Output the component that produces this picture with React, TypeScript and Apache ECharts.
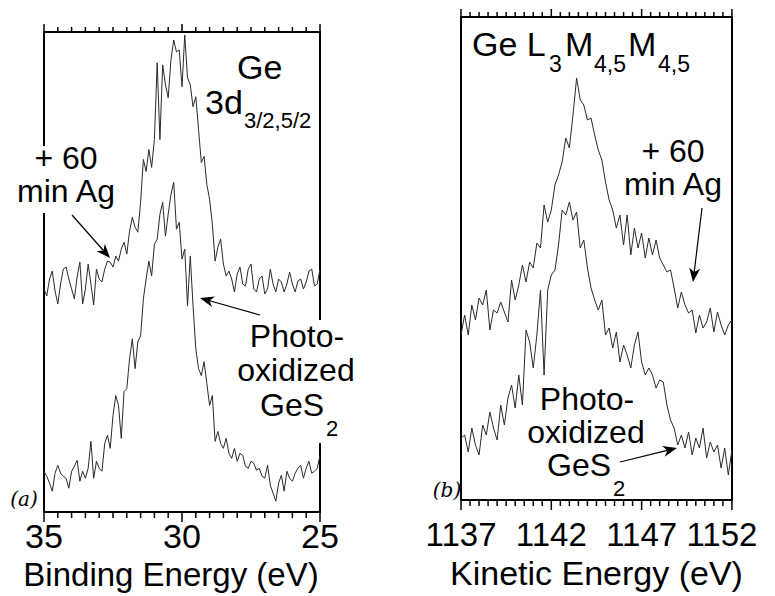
import React, { useEffect, useRef } from "react";
import * as echarts from "echarts";

// Panel (a): Ge 3d, binding energy grid 35 -> 25 eV, step 0.1 eV
const BE_START = 35;
const BE_STEP = -0.1;
const ge3dAg = [
  224, 217, 234, 242, 222, 209, 229, 244, 246, 234,
  224, 214, 236, 251, 209, 224, 249, 229, 208, 244,
  234, 231, 244, 252, 251, 246, 257, 252, 264, 271,
  259, 282, 296, 286, 281, 311, 354, 342, 364, 346,
  374, 451, 374, 449, 429, 416, 454, 474, 462, 464,
  427, 479, 436, 429, 407, 417, 384, 351, 357, 329,
  314, 289, 252, 266, 274, 249, 237, 242, 234, 221,
  239, 246, 229, 227, 244, 249, 224, 221, 234, 237,
  219, 224, 244, 229, 221, 234, 231, 221, 229, 241,
  229, 221, 232, 234, 224, 231, 242, 244, 227, 229,
  244,
];
const ge3dOx = [
  41, 36, 29, 21, 39, 47, 39, 36, 34, 24,
  41, 46, 52, 31, 41, 34, 44, 71, 34, 51,
  44, 41, 69, 77, 64, 97, 117, 107, 74, 121,
  124, 154, 174, 144, 171, 177, 214, 234, 252, 237,
  269, 274, 299, 311, 277, 299, 319, 331, 284, 291,
  254, 264, 207, 257, 207, 164, 144, 137, 151, 129,
  107, 117, 71, 81, 69, 64, 74, 59, 54, 64,
  51, 59, 57, 46, 44, 51, 49, 42, 44, 36,
  34, 47, 27, 19, 11, 29, 37, 21, 41, 34,
  31, 39, 44, 47, 34, 44, 51, 39, 41, 44,
  57,
];

// Panel (b): Ge L3M45M45 Auger, kinetic energy grid 1137 -> 1152 eV, step 0.2 eV
const KE_START = 1137;
const KE_STEP = 0.2;
const augerAg = [
  165, 185, 165, 195, 180, 202, 195, 210, 170, 190,
  187, 198, 188, 178, 220, 200, 215, 235, 218, 238,
  232, 257, 252, 295, 278, 290, 315, 325, 338, 362,
  352, 385, 422, 400, 395, 380, 382, 365, 350, 340,
  318, 300, 290, 272, 285, 255, 285, 245, 272, 252,
  267, 242, 262, 245, 260, 242, 235, 228, 230, 212,
  192, 208, 195, 187, 190, 167, 185, 172, 178, 192,
  168, 188, 175, 165, 175, 180,
];
const augerOx = [
  62, 65, 48, 72, 55, 45, 75, 65, 88, 72,
  60, 95, 75, 102, 115, 92, 125, 95, 170, 158,
  132, 165, 210, 125, 210, 225, 230, 255, 290, 285,
  298, 280, 288, 252, 260, 232, 212, 200, 190, 200,
  165, 172, 152, 168, 138, 155, 145, 132, 155, 168,
  138, 125, 132, 125, 112, 120, 118, 95, 80, 72,
  55, 65, 52, 68, 45, 62, 52, 72, 42, 58,
  48, 55, 32, 52, 25, 50,
];

// tick positions (labels on the major ones)
const beMajorTicks = [35, 30, 25];
const beMinorTicks = [
  35, 34.5, 34, 33.5, 33, 32.5, 32, 31.5, 31, 30.5, 30,
  29.5, 29, 28.5, 28, 27.5, 27, 26.5, 26, 25.5, 25,
];
const keMajorTicks = [1137, 1142, 1147, 1152];
const keMinorTicks = [
  1137, 1137.5, 1138, 1138.5, 1139, 1139.5, 1140, 1140.5, 1141, 1141.5, 1142,
  1142.5, 1143, 1143.5, 1144, 1144.5, 1145, 1145.5, 1146, 1146.5, 1147,
  1147.5, 1148, 1148.5, 1149, 1149.5, 1150, 1150.5, 1151, 1151.5, 1152,
];

const BE_MIN = 25;
const BE_MAX = 35;
const KE_SPAN = 15;
const MAJOR_STEP = 5;
const YMAX_A = 482;
const YMAX_B = 483;

const FONT = "'Liberation Sans', Arial, Helvetica, sans-serif";
const SERIF = "'DejaVu Serif', 'Liberation Serif', serif";
const ANN = 32; // annotation font size

function txt(text: string, x: number, y: number, size: number, align = "left", extra: any = {}) {
  return {
    type: "text",
    x,
    y,
    z: 110,
    style: { text, fontSize: size, fontFamily: FONT, fill: "#000", align, verticalAlign: "middle", ...extra },
  };
}

function arrow(x1: number, y1: number, x2: number, y2: number) {
  const ang = Math.atan2(y2 - y1, x2 - x1);
  const ux = Math.cos(ang);
  const uy = Math.sin(ang);
  const px = -uy;
  const py = ux;
  const L = 14;
  const W = 5.5;
  const N = 10;
  const bx = x2 - ux * L;
  const by = y2 - uy * L;
  const nx = x2 - ux * N;
  const ny = y2 - uy * N;
  return [
    { type: "line", z: 110, shape: { x1, y1, x2: nx, y2: ny }, style: { stroke: "#000", lineWidth: 1.2 } },
    {
      type: "polygon",
      z: 110,
      shape: { points: [[x2, y2], [bx + px * W, by + py * W], [nx, ny], [bx - px * W, by - py * W]] },
      style: { fill: "#000" },
    },
  ];
}

function sideAxis(gridIndex: number, position: string, max: number) {
  return {
    gridIndex,
    type: "value",
    position,
    min: 0,
    max,
    axisLine: { show: true, onZero: false, lineStyle: { color: "#000", width: 2 } },
    axisTick: { show: false },
    axisLabel: { show: false },
    splitLine: { show: false },
  };
}

function topAxis(gridIndex: number, min: number, max: number, inverse: boolean) {
  return {
    gridIndex,
    type: "value",
    position: "top",
    min,
    max,
    inverse,
    interval: MAJOR_STEP,
    axisLine: { show: true, onZero: false, lineStyle: { color: "#000", width: 2 } },
    axisTick: { show: false },
    axisLabel: { show: false },
    splitLine: { show: false },
  };
}

// frame tick marks (bottom and top), placed through the axis scales
function tickSeries(xAxisIndex: number, yAxisIndex: number, ticks: number[], majors: number[], offset: number, ymax: number) {
  return {
    type: "custom",
    xAxisIndex,
    yAxisIndex,
    silent: true,
    clip: false,
    z: 5,
    data: ticks.map((v) => [+(v - offset).toFixed(2), majors.includes(v) ? 1 : 0]),
    encode: { x: 0, y: 1 },
    renderItem: (params: any, api: any) => {
      const v = api.value(0);
      const major = api.value(1) === 1;
      const pb = api.coord([v, 0]);
      const pt = api.coord([v, ymax]);
      const lb = major ? 10 : 6;
      const lt = major ? 8 : 5;
      const style = { stroke: "#000", lineWidth: 1.5 };
      return {
        type: "group",
        children: [
          { type: "line", shape: { x1: pb[0], y1: pb[1], x2: pb[0], y2: pb[1] + lb }, style },
          { type: "line", shape: { x1: pt[0], y1: pt[1], x2: pt[0], y2: pt[1] - lt }, style },
        ],
      };
    },
  };
}

export default function App() {
  const ref = useRef<HTMLDivElement>(null);

  useEffect(() => {
    if (!ref.current) return;
    const chart = echarts.init(ref.current, null, { renderer: "svg" });

    const dataA1 = ge3dAg.map((v, i) => [+(BE_START + i * BE_STEP).toFixed(2), v]);
    const dataA2 = ge3dOx.map((v, i) => [+(BE_START + i * BE_STEP).toFixed(2), v]);
    const dataB1 = augerAg.map((v, i) => [+(i * KE_STEP).toFixed(2), v]);
    const dataB2 = augerOx.map((v, i) => [+(i * KE_STEP).toFixed(2), v]);

    const lineStyle = { color: "#2a2a2a", width: 1 };

    const option: any = {
      animation: false,
      backgroundColor: "#fff",
      grid: [
        { left: 44, top: 32, width: 276, height: 482 },
        { left: 461, top: 17, width: 276, height: 483 },
      ],
      xAxis: [
        {
          gridIndex: 0,
          type: "value",
          position: "bottom",
          inverse: true,
          min: BE_MIN,
          max: BE_MAX,
          interval: MAJOR_STEP,
          axisLine: { show: true, onZero: false, lineStyle: { color: "#000", width: 2 } },
          axisTick: { show: false },
          axisLabel: { fontSize: 34, fontFamily: FONT, color: "#000", margin: 7 },
          splitLine: { show: false },
          name: "Binding Energy (eV)",
          nameLocation: "middle",
          nameGap: 42,
          nameTextStyle: { fontSize: 33, fontFamily: FONT, color: "#000", padding: [0, 22, 0, 0] },
        },
        topAxis(0, BE_MIN, BE_MAX, true),
        {
          gridIndex: 1,
          type: "value",
          position: "bottom",
          min: 0,
          max: KE_SPAN,
          interval: MAJOR_STEP,
          axisLine: { show: true, onZero: false, lineStyle: { color: "#000", width: 2 } },
          axisTick: { show: false },
          axisLabel: {
            fontSize: 33,
            fontFamily: FONT,
            color: "#000",
            margin: 18,
            formatter: (v: number) =>
              v === KE_SPAN ? "{r|" + (v + KE_START) + "}{g| }" : String(v + KE_START),
            rich: {
              r: { fontSize: 33, fontFamily: FONT, color: "#000" },
              g: { fontSize: 33, fontFamily: FONT, width: 20 },
            },
          },
          splitLine: { show: false },
          name: "Kinetic Energy (eV)",
          nameLocation: "middle",
          nameGap: 53,
          nameTextStyle: { fontSize: 34, fontFamily: FONT, color: "#000" },
        },
        topAxis(1, 0, KE_SPAN, false),
      ],
      yAxis: [
        sideAxis(0, "left", YMAX_A),
        sideAxis(0, "right", YMAX_A),
        sideAxis(1, "left", YMAX_B),
        sideAxis(1, "right", YMAX_B),
      ],
      series: [
        { type: "line", xAxisIndex: 0, yAxisIndex: 0, data: dataA1, showSymbol: false, lineStyle, silent: true },
        { type: "line", xAxisIndex: 0, yAxisIndex: 0, data: dataA2, showSymbol: false, lineStyle, silent: true },
        { type: "line", xAxisIndex: 2, yAxisIndex: 2, data: dataB1, showSymbol: false, lineStyle, silent: true },
        { type: "line", xAxisIndex: 2, yAxisIndex: 2, data: dataB2, showSymbol: false, lineStyle, silent: true },
        tickSeries(0, 0, beMinorTicks, beMajorTicks, 0, YMAX_A),
        tickSeries(2, 2, keMinorTicks, keMajorTicks, KE_START, YMAX_B),
      ],
      graphic: [
        // gaps in frame lines behind labels
        { type: "rect", z: 105, shape: { x: 39, y: 146, width: 10, height: 67 }, style: { fill: "#fff" } },
        { type: "rect", z: 105, shape: { x: 315, y: 320, width: 10, height: 123 }, style: { fill: "#fff" } },
        // panel (a) labels
        txt("Ge", 237, 67, 34),
        txt("3d", 205, 102, 34),
        txt("3/2,5/2", 244, 120, 22),
        txt("+ 60", 66, 158, ANN, "center"),
        txt("min Ag", 66, 191, ANN, "center"),
        ...arrow(72, 215, 110, 258),
        txt("Photo-", 297, 336, ANN, "center"),
        txt("oxidized", 296, 370, ANN, "center"),
        txt("GeS", 260, 405, ANN),
        txt("2", 326, 428, 22),
        ...arrow(260, 315, 200, 298),
        txt("(a)", 24, 499, 20, "center", { fontFamily: SERIF, fontStyle: "italic" }),
        // panel (b) labels
        txt("Ge L", 472, 44, 34),
        txt("3", 549, 64, 23),
        txt("M", 565, 44, 34),
        txt("4,5", 594, 64, 23),
        txt("M", 628, 44, 34),
        txt("4,5", 658, 64, 23),
        txt("+ 60", 673, 151, ANN, "center"),
        txt("min Ag", 673, 184, ANN, "center"),
        ...arrow(702, 208, 693, 282),
        txt("Photo-", 587, 399, ANN, "center"),
        txt("oxidized", 586, 432, ANN, "center"),
        txt("GeS", 547, 465, ANN),
        txt("2", 613, 488, 22),
        ...arrow(620, 462, 677, 448),
        txt("(b)", 447, 490, 20, "center", { fontFamily: SERIF, fontStyle: "italic" }),
      ],
    };

    chart.setOption(option);
    return () => chart.dispose();
  }, []);

  return (
    <div
      ref={ref}
      style={{ position: "absolute", left: 0, top: 0, width: 775, height: 596, background: "#fff" }}
    />
  );
}
